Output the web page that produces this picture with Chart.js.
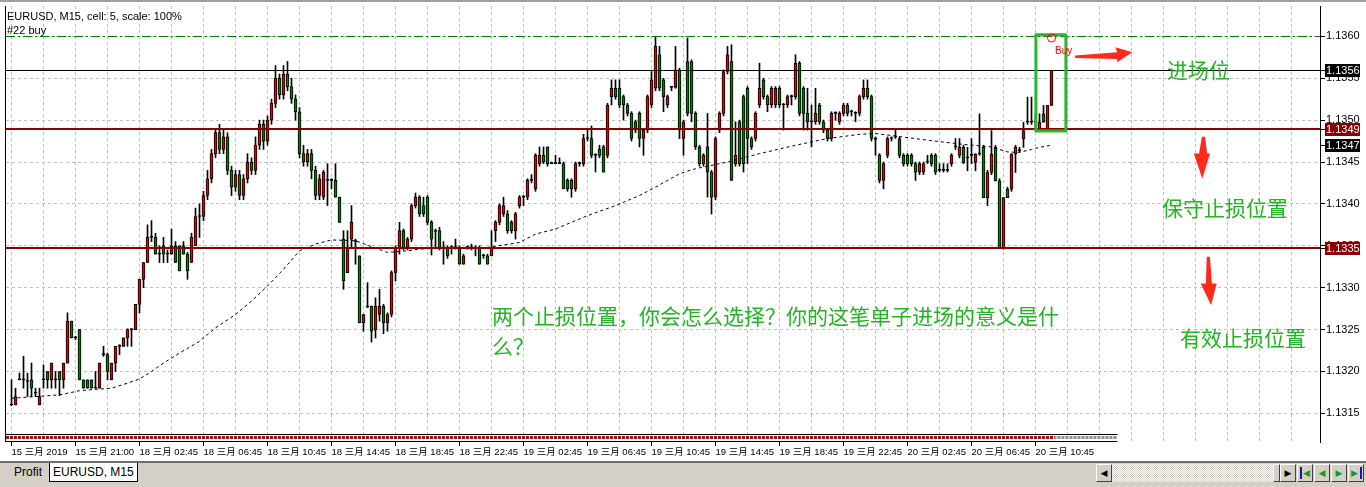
<!DOCTYPE html>
<html>
<head>
<meta charset="utf-8">
<script src="https://cdn.jsdelivr.net/npm/chart.js"></script>
<style>
  body { margin: 0; width: 1366px; height: 487px; overflow: hidden; background: #fff; position: relative;
         font-family: "Liberation Sans", "Noto Sans CJK SC", sans-serif; }
  #chart { position: absolute; left: 0; top: 0; }
  .head { position: absolute; left: 7px; font-size: 11px; line-height: 13px; color: #000; white-space: nowrap; }
  .note { position: absolute; color: #22b422; font-family: "Noto Sans CJK SC", sans-serif; font-size: 21px;
          line-height: 30px; white-space: nowrap; }
  #bar { position: absolute; left: 0; top: 461px; width: 1366px; height: 26px; background: #d4d0c8;
         border-top: 2px solid #6f6f6f; box-sizing: border-box; }
  .tab { position: absolute; top: 0; height: 19px; font-size: 12px; line-height: 18px; padding: 0 3px; box-sizing: border-box; }
  .tab.sel { background: #fff; border: 1px solid #000; border-top: none; }
  .btn { position: absolute; top: 1px; width: 16px; height: 18px; background: #d4d0c8; box-sizing: border-box;
         border: 1px solid; border-color: #fff #404040 #404040 #fff; font-family: "DejaVu Sans"; font-size: 9px;
         line-height: 16px; text-align: center; }
  .track { position: absolute; top: 1px; height: 18px; left: 1112px; width: 161px;
           background: repeating-conic-gradient(#fff 0 25%, #d4d0c8 0 50%) 0 0 / 2px 2px; }
  .g { color: #1a9a1a; }
  .bl { position: absolute; top: 2px; width: 2px; height: 12px; background: #1a1aa0; }
</style>
</head>
<body>
<canvas id="chart" width="1366" height="462"></canvas>
<div class="head" style="top:10px">EURUSD, M15, cell: 5, scale: 100%</div>
<div class="head" style="top:24px">#22 buy</div>
<div class="note" style="left:1167px; top:54px">进场位</div>
<div class="note" style="left:1162px; top:192px">保守止损位置</div>
<div class="note" style="left:1180px; top:322px">有效止损位置</div>
<div class="note" style="left:492px; top:300px">两个止损位置，你会怎么选择？你的这笔单子进场的意义是什<br>么？</div>
<div id="bar">
  <div class="tab" style="left:11px">Profit</div>
  <div class="tab sel" style="left:49px">EURUSD, M15</div>
  <div class="btn" style="left:1096px">◀</div>
  <div class="track"></div>
  <div class="btn" style="left:1273px; width:7px"></div>
  <div class="btn" style="left:1280px">▶</div>
  <div class="btn g" style="left:1297px"><div class="bl" style="left:2px"></div>&nbsp;◀</div>
  <div class="btn g" style="left:1314px">◀</div>
  <div class="btn g" style="left:1331px">▶</div>
  <div class="btn g" style="left:1348px">▶&nbsp;<div class="bl" style="left:11px"></div></div>
</div>
<script>
// time axis labels, one every 16 bars (4 hours of M15)
const tickLabels = ["15 三月 2019", "15 三月 21:00", "18 三月 02:45", "18 三月 06:45", "18 三月 10:45",
  "18 三月 14:45", "18 三月 18:45", "18 三月 22:45", "19 三月 02:45", "19 三月 06:45", "19 三月 10:45",
  "19 三月 14:45", "19 三月 18:45", "19 三月 22:45", "20 三月 02:45", "20 三月 06:45", "20 三月 10:45"];
const priceTicks = [1.1315, 1.1320, 1.1325, 1.1330, 1.1335, 1.1340, 1.1345, 1.1350, 1.1355, 1.1360];

// EURUSD M15 bars
const opens = [1.13161,1.1316,1.1319,1.1319,1.13188,1.1319,1.13175,1.1316,1.1319,1.132,
  1.1319,1.13191,1.132,1.1319,1.1321,1.1326,1.1324,1.1325,1.1319,1.1319,
  1.1319,1.1318,1.1318,1.1322,1.1322,1.1319,1.1321,1.1323,1.1323,1.1324,
  1.1325,1.1325,1.1328,1.1331,1.1333,1.1336,1.1336,1.1334,1.1335,1.1334,
  1.1334,1.1335,1.1335,1.1335,1.1334,1.1333,1.1335,1.13385,1.13385,1.1341,
  1.1343,1.1346,1.13485,1.13465,1.1348,1.1344,1.1342,1.13435,1.1341,1.1343,
  1.1345,1.1344,1.1347,1.13495,1.13475,1.135,1.1352,1.1355,1.1353,1.13555,
  1.1354,1.13525,1.1351,1.1346,1.1345,1.1346,1.1344,1.1341,1.13408,1.13428,
  1.13428,1.13428,1.13408,1.13358,1.13318,1.13358,1.13356,1.13338,1.13258,1.13278,
  1.13278,1.1325,1.13268,1.13278,1.13258,1.13268,1.13318,1.13348,1.13368,1.13348,
  1.13358,1.13398,1.13408,1.13398,1.13408,1.13378,1.13368,1.13368,1.13348,1.13348,
  1.13348,1.13348,1.13348,1.13328,1.13348,1.13348,1.13348,1.13348,1.13338,1.13338,
  1.13338,1.13368,1.13378,1.13388,1.13388,1.13378,1.13368,1.13398,1.13408,1.13408,
  1.13428,1.13418,1.13448,1.13458,1.13468,1.13449,1.13448,1.13448,1.13448,1.13428,
  1.13428,1.13418,1.13448,1.13448,1.13478,1.13478,1.13458,1.13465,1.13468,1.13458,
  1.13528,1.13538,1.13538,1.13528,1.13518,1.13508,1.13498,1.13508,1.13478,1.13488,
  1.13518,1.13538,1.13578,1.13548,1.13518,1.13539,1.13539,1.1356,1.13478,1.1357,
  1.1357,1.13508,1.13468,1.13448,1.13468,1.13438,1.13408,1.13488,1.13508,1.13558,
  1.1357,1.13448,1.13498,1.13528,1.13538,1.13478,1.13478,1.13518,1.13548,1.13528,
  1.13518,1.13518,1.13538,1.13518,1.13518,1.13528,1.13528,1.13568,1.13538,1.13508,
  1.13498,1.13498,1.13518,1.13498,1.13488,1.13478,1.13508,1.13498,1.13508,1.13518,
  1.1351,1.13508,1.13508,1.13528,1.13538,1.13528,1.13478,1.13458,1.13428,1.13458,
  1.13478,1.1348,1.13478,1.13458,1.13458,1.13458,1.13448,1.13438,1.13438,1.1345,
  1.13458,1.13458,1.1344,1.1344,1.1344,1.13448,1.13468,1.13458,1.134675,1.13455,
  1.13458,1.134495,1.134595,1.134675,1.134075,1.134375,1.134675,1.134275,1.133475,1.134175,
  1.134175,1.134595,1.134635,1.134775,1.134975,1.134975,1.134975,1.134895,1.135075,1.134895,1.135175];
const highs = [1.1319,1.1318,1.13198,1.13218,1.13198,1.1321,1.1318,1.1318,1.13208,1.132,
  1.1321,1.132,1.132,1.1321,1.1327,1.1326,1.13242,1.1325,1.1319,1.1319,
  1.1319,1.132,1.1321,1.1323,1.13222,1.1321,1.1323,1.13232,1.1324,1.13251,
  1.13251,1.1328,1.1331,1.1333,1.13375,1.1338,1.13365,1.1335,1.1336,1.13345,
  1.1337,1.13355,1.1335,1.13355,1.13342,1.13365,1.13395,1.134,1.13415,1.1344,
  1.13465,1.1349,1.13495,1.1349,1.13485,1.13445,1.1344,1.1344,1.13435,1.1346,
  1.13455,1.1348,1.135,1.135,1.13505,1.13525,1.13565,1.13555,1.13565,1.1357,
  1.1355,1.1353,1.13515,1.1347,1.13465,1.13465,1.13445,1.13435,1.1344,1.13448,
  1.1343,1.13448,1.13408,1.13368,1.13368,1.13398,1.13358,1.13338,1.13268,1.13306,
  1.13278,1.13288,1.13298,1.1328,1.1327,1.1332,1.1335,1.13378,1.1337,1.1336,
  1.134,1.13413,1.1341,1.13408,1.1341,1.1338,1.1337,1.13372,1.13355,1.1335,
  1.1335,1.13358,1.1335,1.1334,1.1335,1.13352,1.1335,1.1335,1.1334,1.1334,
  1.13368,1.1338,1.134,1.13408,1.13392,1.1338,1.1339,1.1341,1.1341,1.1343,
  1.13435,1.1346,1.13468,1.13468,1.13468,1.1345,1.13458,1.13455,1.1345,1.1343,
  1.1343,1.1345,1.1345,1.13483,1.13488,1.13493,1.1346,1.1347,1.1347,1.1352,
  1.13548,1.13548,1.13548,1.1353,1.1352,1.1351,1.135,1.1351,1.1349,1.1353,
  1.13558,1.136,1.13588,1.1355,1.1353,1.1354,1.13588,1.13562,1.135,1.13598,
  1.13572,1.1351,1.1347,1.1346,1.13508,1.1344,1.1348,1.1351,1.1356,1.13588,
  1.1359,1.13498,1.135,1.1353,1.1354,1.1348,1.1351,1.13568,1.1355,1.1353,
  1.1354,1.1354,1.1354,1.1352,1.1353,1.1353,1.13578,1.1357,1.1354,1.13538,
  1.13518,1.13538,1.1352,1.135,1.1349,1.1351,1.1351,1.1351,1.1352,1.1352,
  1.13512,1.1351,1.1353,1.13548,1.13548,1.1353,1.1348,1.1346,1.1345,1.1348,
  1.1348,1.13488,1.1348,1.1346,1.1346,1.1346,1.1345,1.1345,1.1345,1.13458,
  1.1346,1.1346,1.13448,1.13448,1.13448,1.1346,1.13478,1.13478,1.1347,1.134675,
  1.13478,1.1346,1.135075,1.1347,1.1344,1.134875,1.1347,1.1343,1.134075,1.1342,
  1.1346,1.1347,1.134675,1.134975,1.135275,1.135275,1.135075,1.135075,1.135175,1.135175,1.135595];
const lows = [1.13159,1.1316,1.1319,1.1318,1.1317,1.1317,1.1317,1.1316,1.1318,1.1318,
  1.1318,1.1318,1.13171,1.1318,1.1321,1.1324,1.13238,1.1319,1.1318,1.1318,
  1.1318,1.1318,1.1318,1.13218,1.1319,1.1319,1.132,1.1322,1.1323,1.1323,
  1.1323,1.1325,1.1327,1.133,1.1333,1.13355,1.1334,1.1333,1.1333,1.1333,
  1.1334,1.1333,1.1332,1.1334,1.1331,1.1333,1.1335,1.1336,1.1338,1.13405,
  1.13425,1.13455,1.1346,1.1346,1.13435,1.1341,1.13415,1.13405,1.13405,1.13425,
  1.13435,1.13435,1.13465,1.13465,1.1347,1.13495,1.13515,1.13525,1.13525,1.13535,
  1.1352,1.135,1.13455,1.13445,1.13445,1.1343,1.13405,1.13405,1.13405,1.13398,
  1.13418,1.13408,1.13378,1.13298,1.13318,1.13348,1.13328,1.13258,1.13248,1.13276,
  1.13235,1.1324,1.1326,1.13245,1.13248,1.13265,1.13308,1.1334,1.13345,1.13345,
  1.13355,1.13395,1.13385,1.13385,1.13375,1.13339,1.13348,1.13345,1.13328,1.13335,
  1.1334,1.13346,1.13328,1.13328,1.13346,1.13345,1.13338,1.13328,1.13335,1.13328,
  1.13338,1.13355,1.13375,1.13385,1.13365,1.13365,1.13358,1.13395,1.13398,1.13405,
  1.13425,1.13415,1.13445,1.13448,1.13445,1.13448,1.13448,1.13448,1.13418,1.13415,
  1.13408,1.13415,1.13445,1.13445,1.13475,1.13455,1.13438,1.13455,1.13438,1.13455,
  1.13518,1.13525,1.13515,1.135,1.13505,1.13475,1.13485,1.13468,1.13458,1.13485,
  1.13515,1.13535,1.13535,1.1351,1.13515,1.13535,1.13538,1.13478,1.13458,1.13505,
  1.13498,1.13465,1.13445,1.13445,1.13408,1.13388,1.13405,1.13485,1.13505,1.13555,
  1.13428,1.13445,1.13445,1.13438,1.13448,1.13465,1.13475,1.13515,1.13525,1.1351,
  1.13515,1.13515,1.13515,1.13488,1.13515,1.13518,1.13525,1.13505,1.13488,1.13488,
  1.13468,1.13495,1.13495,1.13485,1.13475,1.13475,1.135,1.13495,1.13505,1.13505,
  1.13505,1.13498,1.13505,1.13525,1.13525,1.13475,1.13458,1.13425,1.13418,1.13455,
  1.13475,1.13478,1.13455,1.13445,1.13445,1.13445,1.13428,1.13435,1.13435,1.13448,
  1.13445,1.13435,1.13438,1.13438,1.13438,1.13445,1.13465,1.13455,1.13448,1.134395,
  1.13448,1.134395,1.13458,1.134075,1.13398,1.13435,1.134275,1.133475,1.13346,1.134075,
  1.13415,1.134375,1.13462,1.134675,1.13495,1.13495,1.13489,1.13488,1.134975,1.13488,1.135175];
const closes = [1.1316,1.1317,1.13191,1.13191,1.13189,1.1318,1.13174,1.1317,1.13191,1.1319,
  1.1321,1.1319,1.1319,1.1321,1.1326,1.1324,1.13241,1.1319,1.1318,1.1318,
  1.1318,1.13181,1.1321,1.13221,1.132,1.1321,1.1323,1.13231,1.1324,1.1325,
  1.13251,1.1328,1.1331,1.1333,1.1336,1.13361,1.1334,1.13341,1.1334,1.13341,
  1.1335,1.1333,1.1332,1.1334,1.1332,1.1336,1.13385,1.13386,1.1341,1.1343,
  1.1346,1.13485,1.13465,1.1348,1.1344,1.1342,1.13435,1.1341,1.1343,1.1345,
  1.1344,1.1347,1.13495,1.13475,1.135,1.1352,1.1355,1.1353,1.13555,1.1354,
  1.13525,1.1351,1.1346,1.1345,1.1346,1.1344,1.1341,1.1343,1.13438,1.13429,
  1.134285,1.13408,1.13378,1.13308,1.13348,1.13378,1.13355,1.13258,1.13268,1.13277,
  1.13248,1.13278,1.13278,1.13258,1.13268,1.13318,1.13348,1.13368,1.13348,1.13358,
  1.13398,1.13408,1.13388,1.13388,1.13378,1.13358,1.13367,1.13348,1.133475,1.13338,
  1.133485,1.133485,1.13328,1.13338,1.133485,1.133485,1.13347,1.13328,1.133385,1.13328,
  1.13348,1.13378,1.13398,1.13398,1.13368,1.13368,1.13388,1.13408,1.134085,1.13428,
  1.134285,1.13458,1.13458,1.1345,1.13448,1.13448,1.134485,1.13449,1.13418,1.13418,
  1.13418,1.13448,1.134485,1.13478,1.134785,1.13458,1.134585,1.13458,1.13438,1.13518,
  1.13538,1.13528,1.13518,1.13518,1.13508,1.13478,1.13488,1.13478,1.13488,1.13528,
  1.13548,1.13588,1.13538,1.13528,1.13528,1.135395,1.1356,1.13488,1.13498,1.13508,
  1.13508,1.13468,1.13448,1.13458,1.13438,1.13408,1.13478,1.13508,1.13558,1.13578,
  1.13428,1.13458,1.13448,1.13448,1.13478,1.13468,1.13508,1.13538,1.13528,1.13518,
  1.13538,1.13538,1.13518,1.135185,1.13528,1.135285,1.13568,1.13508,1.13508,1.13498,
  1.134985,1.13508,1.13498,1.13488,1.13478,1.13508,1.135085,1.13508,1.13518,1.13508,
  1.135105,1.135085,1.13528,1.13538,1.13528,1.13478,1.13477,1.13428,1.13448,1.13478,
  1.134785,1.134805,1.13458,1.13448,1.13448,1.13448,1.13438,1.13448,1.13448,1.134505,
  1.13448,1.13438,1.134405,1.134405,1.134405,1.13458,1.134685,1.13468,1.134495,1.134555,
  1.134585,1.134595,1.1346,1.134075,1.134375,1.134595,1.134275,1.133475,1.134075,1.134075,
  1.134595,1.134675,1.13464,1.134875,1.13498,1.13498,1.13498,1.134975,1.134975,1.135175,1.135595];

// dotted moving average, read at these bars
const maIndex = [0,12,17,22,25,29,32,35,38,42,47,51,56,60,64,68,72,76,80,86,94,99,102,110,119,
  127,131,136,144,151,157,161,167,171,179,187,196,204,212,216,221,229,238,245,249,252,255,257,260];
const maValues = [1.13168,1.13172,1.13177,1.13179,1.1318,1.13186,1.13191,1.132,1.1321,1.13222,
  1.13236,1.13252,1.13268,1.13284,1.13302,1.13322,1.13344,1.13352,1.13357,1.13356,
  1.13342,1.13344,1.13346,1.13348,1.13348,1.13354,1.13364,1.1337,1.13386,1.13398,
  1.1341,1.1342,1.13436,1.13442,1.1345,1.1346,1.1347,1.13478,1.13483,1.13484,
  1.13481,1.13476,1.13471,1.13468,1.13462,1.134615,1.13465,1.134675,1.1347];

// horizontal levels
const orderPrice = 1.1360;
const bidPrice = 1.135595;
const stopPrices = [1.13489, 1.13347];

const X_MIN = -1.375, X_MAX = 327.375;
const Y_MIN = 1.131158, Y_MAX = 1.136362;

const gridBars = [];
for (let b = 0; b <= 320; b += 8) gridBars.push(b);

const bodyColor = opens.map((o, i) => {
  const c = closes[i];
  if (Math.abs(c - o) < 0.000012) return "#000";
  return c > o ? "#e80000" : "#008000";
});

const decor = {
  id: "decor",
  afterDatasetsDraw(chart) {
    const { ctx, chartArea: a, scales: { y } } = chart;
    const hline = (price, color, width, dash) => {
      const py = Math.round(y.getPixelForValue(price)) + (width % 2 ? 0.5 : 0);
      ctx.beginPath();
      ctx.setLineDash(dash);
      ctx.strokeStyle = color;
      ctx.lineWidth = width;
      ctx.moveTo(a.left, py);
      ctx.lineTo(a.right, py);
      ctx.stroke();
    };
    ctx.save();
    hline(orderPrice, "#008000", 1, [9, 3, 2, 3]);
    hline(bidPrice, "#000", 1, []);
    stopPrices.forEach(p => hline(p, "#8b0000", 2, []));
    ctx.restore();
  },
  afterDraw(chart) {
    const { ctx, chartArea: a, scales: { x, y } } = chart;
    ctx.save();
    // window frame
    ctx.fillStyle = "#a0a0a0";
    ctx.fillRect(0, 0, 1366, 2);
    ctx.fillStyle = "#000";
    ctx.fillRect(5, a.top, 1, a.bottom - a.top);
    ctx.fillRect(a.right - 1, a.top, 1, a.bottom - a.top + 1);

    // strip at the bottom of the plot
    const sx = x.getPixelForValue(276.5);
    ctx.fillStyle = "#fff";
    ctx.fillRect(6, a.bottom - 8, sx - 6, 8);
    ctx.fillStyle = "#000";
    ctx.fillRect(6, a.bottom - 8, sx - 6, 1);
    ctx.fillRect(6, a.bottom - 1, sx - 6, 1);
    ctx.lineWidth = 3;
    ctx.setLineDash([3, 1]);
    ctx.strokeStyle = "#a01010";
    ctx.beginPath();
    ctx.moveTo(6, a.bottom - 4.5);
    ctx.lineTo(x.getPixelForValue(260.5), a.bottom - 4.5);
    ctx.stroke();
    ctx.strokeStyle = "#909090";
    ctx.beginPath();
    ctx.moveTo(x.getPixelForValue(260.5), a.bottom - 4.5);
    ctx.lineTo(sx, a.bottom - 4.5);
    ctx.stroke();
    ctx.setLineDash([]);

    // price boxes on the right axis
    const box = (price, bg) => {
      const py = Math.round(y.getPixelForValue(price));
      ctx.fillStyle = "#000";
      ctx.fillRect(a.right, py, 4, 1);
      ctx.fillStyle = bg;
      ctx.fillRect(a.right + 4, py - 6, 35, 13);
      ctx.fillStyle = "#fff";
      ctx.font = '11px "Liberation Sans"';
      ctx.textBaseline = "middle";
      ctx.textAlign = "left";
      ctx.fillText(price.toFixed(4), a.right + 5, py + 1);
    };
    box(bidPrice, "#000");
    box(stopPrices[0], "#8b0000");
    box(maValues[maValues.length - 1], "#000");
    box(stopPrices[1], "#8b0000");

    // trade marker: green frame around the entry bars
    const bx0 = x.getPixelForValue(256.1), bx1 = x.getPixelForValue(263.6);
    const by0 = y.getPixelForValue(1.13602), by1 = y.getPixelForValue(1.13487);
    ctx.strokeStyle = "#2db52d";
    ctx.lineWidth = 3;
    ctx.lineJoin = "round";
    ctx.strokeRect(bx0, by0, bx1 - bx0, by1 - by0);

    ctx.strokeStyle = "#ff0000";
    ctx.lineWidth = 1;
    ctx.beginPath();
    ctx.arc(x.getPixelForValue(260), y.getPixelForValue(1.13598), 4, 0, Math.PI * 2);
    ctx.stroke();
    ctx.fillStyle = "#ff0000";
    ctx.font = '10px "Liberation Sans"';
    ctx.textBaseline = "alphabetic";
    ctx.fillText("Buy", x.getPixelForValue(260.9), y.getPixelForValue(1.13579));

    // red arrows (bar index, price)
    const arrow = pts => {
      ctx.fillStyle = "#ff2a1a";
      ctx.beginPath();
      pts.forEach(([b, p], k) => {
        const px = x.getPixelForValue(b), py = y.getPixelForValue(p);
        k ? ctx.lineTo(px, py) : ctx.moveTo(px, py);
      });
      ctx.closePath();
      ctx.fill();
    };
    arrow([[265.9, 1.13577], [276.4, 1.13581], [276.0, 1.13587], [280.2, 1.13581], [276.4, 1.13569], [276.4, 1.13573], [265.9, 1.13574]]);
    arrow([[297.6, 1.13480], [298.4, 1.13480], [298.9, 1.13460], [299.6, 1.13460], [297.7, 1.13430], [295.6, 1.13460], [296.9, 1.13460]]);
    arrow([[298.8, 1.13337], [299.6, 1.13337], [300.1, 1.13305], [301.3, 1.13305], [299.9, 1.13279], [297.3, 1.13305], [298.6, 1.13305]]);
    ctx.restore();
  }
};

const wickData = highs.map((h, i) => ({ x: i, y: [lows[i], h] }));
const bodyData = opens.map((o, i) => ({ x: i, y: [o, closes[i]] }));
const maData = maIndex.map((b, k) => ({ x: b, y: maValues[k] }));

new Chart(document.getElementById("chart"), {
  data: {
    datasets: [
      { type: "line", data: maData, borderColor: "#000", borderWidth: 1, borderDash: [3, 3],
        pointRadius: 0, tension: 0, order: 1 },
      { type: "bar", data: bodyData, backgroundColor: bodyColor, borderColor: "#000", borderWidth: 1,
        borderSkipped: false, maxBarThickness: 3, categoryPercentage: 1, barPercentage: 1,
        minBarLength: 1, grouped: false, order: 2 },
      { type: "bar", data: wickData, backgroundColor: "#000", maxBarThickness: 1,
        categoryPercentage: 1, barPercentage: 1, grouped: false, order: 3 }
    ]
  },
  options: {
    responsive: false,
    devicePixelRatio: 1,
    animation: false,
    events: [],
    layout: { padding: { left: 6, top: 6, right: 0, bottom: 0 } },
    plugins: { legend: { display: false }, tooltip: { enabled: false } },
    scales: {
      x: {
        type: "linear",
        offset: false,
        min: X_MIN,
        max: X_MAX,
        afterBuildTicks: axis => { axis.ticks = gridBars.map(v => ({ value: v })); },
        afterFit: axis => { axis.height = 20; axis.paddingLeft = 0; axis.paddingRight = 0; },
        grid: {
          offset: false,
          color: "#c0c0c0",
          tickColor: c => (c.tick && c.tick.value % 16 === 0 && c.tick.value <= 256 ? "#000" : "rgba(0,0,0,0)"),
          tickLength: 4
        },
        border: { display: false, dash: [3, 3] },
        ticks: {
          autoSkip: false,
          maxRotation: 0,
          minRotation: 0,
          align: "start",
          padding: 1,
          color: "#000",
          font: { family: '"Liberation Sans", "Noto Sans CJK SC"', size: 9.5 },
          callback: v => (v % 16 === 0 ? (tickLabels[v / 16] || "") : "")
        }
      },
      y: {
        type: "linear",
        position: "right",
        offset: false,
        min: Y_MIN,
        max: Y_MAX,
        afterBuildTicks: axis => { axis.ticks = priceTicks.map(v => ({ value: v })); },
        afterFit: axis => { axis.width = 45; axis.paddingTop = 0; axis.paddingBottom = 0; },
        grid: { color: "#c0c0c0", tickColor: "#000", tickLength: 4 },
        border: { display: false, dash: [3, 3] },
        ticks: {
          padding: 1,
          color: "#000",
          font: { family: '"Liberation Sans"', size: 11 },
          callback: v => v.toFixed(4)
        }
      }
    }
  },
  plugins: [decor]
});
</script>
</body>
</html>
